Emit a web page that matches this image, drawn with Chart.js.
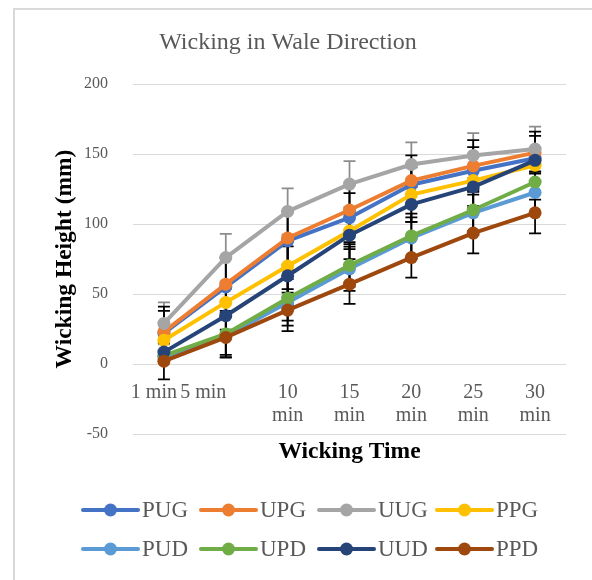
<!DOCTYPE html>
<html><head><meta charset="utf-8">
<script src="https://cdn.jsdelivr.net/npm/chart.js@4.4.1/dist/chart.umd.min.js"></script>
<style>
html,body{margin:0;padding:0;background:#fff;}
#wrap{position:relative;width:592px;height:580px;overflow:hidden;}
#frame{position:absolute;left:13px;top:8px;width:640px;height:640px;border-left:2px solid #d9d9d9;border-top:2px solid #d9d9d9;}
canvas{position:absolute;left:0;top:0;}
</style></head><body>
<div id="wrap"><div id="frame"></div><canvas id="c" width="592" height="580"></canvas></div>
<script>
// ---- data ----
const timeLabels = ["1 min", "5 min", ["10", "min"], ["15", "min"], ["20", "min"], ["25", "min"], ["30", "min"]];
const seriesNames = ["PUG", "UPG", "UUG", "PPG", "PUD", "UPD", "UUD", "PPD"];
const seriesColors = ["#4472C4", "#ED7D31", "#A5A5A5", "#FFC000", "#5B9BD5", "#70AD47", "#264478", "#9E480E"];

const PUG = [22, 55, 88, 104.5, 128, 138, 147];
const UPG = [23, 57, 90, 110, 131, 141.5, 151];
const UUG = [29, 76, 109, 128.5, 142.5, 149, 153.5];
const PPG = [17, 44, 70, 95, 121, 131, 142];
const PUD = [5, 20, 44, 68, 90, 108, 122.5];
const UPD = [6, 21.5, 47, 70.5, 91.5, 110, 130];
const UUD = [8.5, 34.5, 63, 92, 114, 126.5, 145.5];
const PPD = [2, 19, 38.5, 57, 76, 93.5, 108];

const errPUG = [16, 21, 21, 17.5, 14, 17, 16];
const errUPG = [18, 19, 19, 18, 18, 18.5, 15];
const errUUG = [15, 17, 16.5, 16.5, 15.8, 16, 16];
const errPPG = [12, 10, 19, 13, 19.5, 18, 12];
const errPUD = [3, 15, 16.6, 15.8, 14.8, 16, 15];
const errUPD = [3, 15, 16, 15.2, 16, 15, 12.5];
const errUUD = [7, 10, 21, 17, 12.5, 15, 8];
const errPPD = [13, 14.5, 15, 14, 14.3, 14.5, 14.7];

const seriesData = [PUG, UPG, UUG, PPG, PUD, UPD, UUD, PPD];
const seriesErr = [errPUG, errUPG, errUUG, errPPG, errPUD, errUPD, errUUD, errPPD];

const SERIF = '"Liberation Serif", "Times New Roman", serif';

// ---- plugins ----
const errorBars = {
  id: 'errorBars',
  beforeDatasetsDraw(chart) {
    const {ctx, scales: {x, y}} = chart;
    const order = [2, 0, 1, 3, 4, 5, 6, 7];
    ctx.save();
    ctx.lineWidth = 1.75;
    order.forEach(di => {
      ctx.strokeStyle = di === 2 ? '#8c8c8c' : '#000000';
      seriesData[di].forEach((v, i) => {
        const e = seriesErr[di][i];
        const px = x.getPixelForValue(i);
        const t = y.getPixelForValue(v + e);
        const b = y.getPixelForValue(v - e);
        ctx.beginPath();
        ctx.moveTo(px, t); ctx.lineTo(px, b);
        ctx.moveTo(px - 6, t); ctx.lineTo(px + 6, t);
        ctx.moveTo(px - 6, b); ctx.lineTo(px + 6, b);
        ctx.stroke();
      });
    });
    ctx.restore();
  }
};

const customLegend = {
  id: 'customLegend',
  afterDraw(chart) {
    const {ctx, chartArea: a} = chart;
    ctx.save();
    chart.data.datasets.forEach((ds, i) => {
      const col = i % 4, row = Math.floor(i / 4);
      const x0 = a.left - 50 + col * 118;
      const yy = a.bottom + 76 + row * 39;
      ctx.strokeStyle = ds.borderColor;
      ctx.lineWidth = 4;
      ctx.lineCap = 'round';
      ctx.beginPath(); ctx.moveTo(x0, yy); ctx.lineTo(x0 + 55, yy); ctx.stroke();
      ctx.fillStyle = ds.borderColor;
      ctx.beginPath(); ctx.arc(x0 + 27.5, yy, 6.5, 0, Math.PI * 2); ctx.fill();
      ctx.fillStyle = '#595959';
      ctx.font = '23px ' + SERIF;
      ctx.textBaseline = 'middle';
      ctx.textAlign = 'left';
      ctx.fillText(ds.label, x0 + 59, yy + 1);
    });
    ctx.restore();
  }
};

const trailing = ['    ', '         ', '', '', '', '', ''];

new Chart(document.getElementById('c'), {
  type: 'line',
  data: {
    labels: timeLabels,
    datasets: seriesNames.map((n, i) => ({
      label: n,
      data: seriesData[i],
      borderColor: seriesColors[i],
      backgroundColor: seriesColors[i],
      pointBackgroundColor: seriesColors[i],
      pointBorderColor: seriesColors[i],
      borderWidth: 4,
      pointRadius: 6.5,
      pointBorderWidth: 0,
      borderJoinStyle: 'round',
      borderCapStyle: 'round',
      tension: 0,
      fill: false,
      order: 7 - i
    }))
  },
  options: {
    responsive: false,
    animation: false,
    devicePixelRatio: 1,
    layout: {padding: {left: 10, right: 26, top: 0, bottom: 99}},
    plugins: {
      legend: {display: false},
      tooltip: {enabled: false},
      title: {
        display: true,
        text: 'Wicking in Wale Direction',
        color: '#595959',
        font: {family: SERIF, size: 24, weight: 'normal', lineHeight: 1.2},
        padding: {top: 28.6, bottom: 26.6}
      }
    },
    scales: {
      x: {
        type: 'category',
        offset: true,
        grid: {display: false, drawTicks: false},
        border: {display: false},
        ticks: {
          autoSkip: false, maxRotation: 0, minRotation: 0,
          mirror: true,
          padding: 29.6,
          color: '#595959',
          font: {family: SERIF, size: 20, lineHeight: 1.15},
          callback: function (value, index) {
            const l = timeLabels[index];
            return Array.isArray(l) ? l : l + trailing[index];
          }
        },
        title: {
          display: true, text: 'Wicking Time', color: '#000000',
          font: {family: SERIF, size: 23.5, weight: 'bold', lineHeight: 1.2},
          padding: {top: 0, bottom: 14.9}
        },
        afterFit: s => { s.height = 47; }
      },
      y: {
        min: -50, max: 200,
        ticks: {stepSize: 50, padding: 25, color: '#595959', font: {family: SERIF, size: 16}},
        grid: {color: '#d9d9d9', lineWidth: 1, drawTicks: false},
        border: {display: false},
        title: {
          display: true, text: 'Wicking Height (mm)', color: '#000000',
          font: {family: SERIF, size: 23.5, weight: 'bold', lineHeight: 1.2},
          padding: {top: 40.9, bottom: 0}
        },
        afterFit: s => { s.width = 123; }
      }
    }
  },
  plugins: [errorBars, customLegend]
});
</script>
</body></html>
